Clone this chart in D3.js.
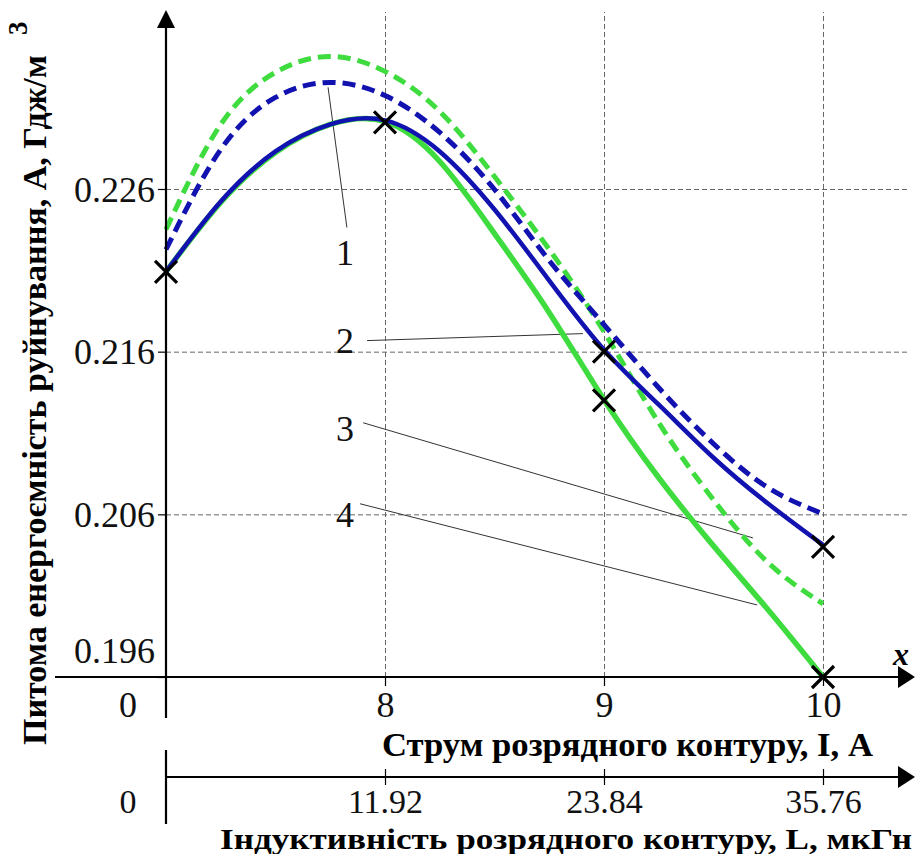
<!DOCTYPE html>
<html><head><meta charset="utf-8">
<script src="https://cdn.jsdelivr.net/npm/d3@7"></script>
<style>
html,body{margin:0;padding:0;background:#fff;}
svg{display:block;font-family:"Liberation Serif","Times New Roman",serif;}
svg text{font-family:"Liberation Serif","Times New Roman",serif;}
</style></head>
<body><svg id="chart" width="916" height="854"></svg>
<script>
// ---- data ----
const currentI = [7, 7.25, 7.5, 7.75, 8, 8.25, 8.5, 8.75, 9, 9.25, 9.5, 9.75, 10];
const blueSolid   = [0.22092,0.22523,0.22831,0.22997,0.23022,0.22831,0.22474,0.22037,0.21612,0.21274,0.20948,0.20665,0.20412];
const greenSolid  = [0.22092,0.22517,0.22825,0.22997,0.23015,0.22769,0.22326,0.21840,0.21305,0.20825,0.20406,0.20012,0.19600];
const blueDashed  = [0.22228,0.22843,0.23163,0.23255,0.23175,0.22948,0.22597,0.22160,0.21766,0.21378,0.21034,0.20763,0.20603];
const greenDashed = [0.22351,0.22997,0.23317,0.23415,0.23323,0.23077,0.22677,0.22228,0.21723,0.21163,0.20689,0.20302,0.20050];
const markerI = [7, 8, 9, 9, 10, 10];
const markerA = [0.2209, 0.2301, 0.2160, 0.2130, 0.2040, 0.1960];
const yTicks = [0.196, 0.206, 0.216, 0.226];
const xTicks = [8, 9, 10];
const lTicks = [11.92, 23.84, 35.76];
const curveLabels = ["1", "2", "3", "4"];
const labelI = [7.817, 7.817, 7.817, 7.817];
const labelA = [0.2221, 0.2167, 0.2113, 0.2060];
const leaderFromI = [7.826, 7.918, 7.900, 7.886];
const leaderFromA = [0.22363, 0.21668, 0.21163, 0.20665];
const leaderToI   = [7.740, 8.904, 9.680, 9.699];
const leaderToA   = [0.23225, 0.21711, 0.20455, 0.20043];
const yTitle = "Питома енергоємність руйнування, А, Гдж/м";
const xTitle1 = "Струм розрядного контуру, I, А";
const xTitle2 = "Індуктивність розрядного контуру, L, мкГн";

// ---- layout ----
const svg = d3.select("#chart");
const x = d3.scaleLinear().domain([7, 10]).range([166, 823]);
const y = d3.scaleLinear().domain([0.196, 0.226]).range([677, 189]);
const xL = d3.scaleLinear().domain([0, 35.76]).range([166, 823]);
const BLUE = "#1212b0", GREEN = "#3edc3e";
const FONT = "Liberation Serif";

// grid
const gy = svg.append("g").attr("transform", "translate(166,0)")
  .call(d3.axisLeft(y).tickValues(yTicks.filter(v => v > 0.196)).tickSize(-(908 - 166)).tickFormat(""));
gy.select(".domain").remove();
gy.selectAll("line").attr("stroke", "#666").attr("stroke-width", 1).attr("stroke-dasharray", "5,3");
const gx = svg.append("g").attr("transform", "translate(0,677)")
  .call(d3.axisBottom(x).tickValues(xTicks).tickSize(-(677 - 12)).tickFormat(""));
gx.select(".domain").remove();
gx.selectAll("line").attr("stroke", "#666").attr("stroke-width", 1).attr("stroke-dasharray", "5,3");

// leader lines and curve numbers
curveLabels.forEach((t, i) => {
  svg.append("line")
    .attr("x1", x(leaderFromI[i])).attr("y1", y(leaderFromA[i]))
    .attr("x2", x(leaderToI[i])).attr("y2", y(leaderToA[i]))
    .attr("stroke", "#333").attr("stroke-width", 1);
  svg.append("text").attr("x", x(labelI[i])).attr("y", y(labelA[i]) + 13)
    .attr("text-anchor", "middle").attr("font-family", FONT).attr("font-size", 36).attr("fill", "#111").text(t);
});

// curves
const line = d3.line().x((d, i) => x(currentI[i])).y(d => y(d)).curve(d3.curveNatural);
svg.append("path").attr("d", line(greenDashed)).attr("fill", "none").attr("stroke", GREEN)
  .attr("stroke-width", 5).attr("stroke-dasharray", "13,7");
svg.append("path").attr("d", line(blueDashed)).attr("fill", "none").attr("stroke", BLUE)
  .attr("stroke-width", 5).attr("stroke-dasharray", "13,7");
svg.append("path").attr("d", line(greenSolid)).attr("fill", "none").attr("stroke", GREEN)
  .attr("stroke-width", 5.5);
svg.append("path").attr("d", line(blueSolid)).attr("fill", "none").attr("stroke", BLUE)
  .attr("stroke-width", 4.5);

// axes lines
const ax = svg.append("g").attr("stroke", "#000").attr("stroke-width", 2.2);
ax.append("line").attr("x1", 166).attr("x2", 166).attr("y1", 718).attr("y2", 24);
ax.append("line").attr("x1", 55).attr("x2", 905).attr("y1", 677).attr("y2", 677);
ax.append("line").attr("x1", 166).attr("x2", 905).attr("y1", 777).attr("y2", 777);
ax.append("line").attr("x1", 166).attr("x2", 166).attr("y1", 750).attr("y2", 824);
svg.append("path").attr("d", "M166,10 L157,28 L175,28 Z").attr("fill", "#000");
svg.append("path").attr("d", "M915,677 L898,666 L898,688 Z").attr("fill", "#000");
svg.append("path").attr("d", "M915,777 L898,766 L898,788 Z").attr("fill", "#000");

// y ticks
const yAx = svg.append("g").attr("transform", "translate(166,0)")
  .call(d3.axisLeft(y).tickValues(yTicks).tickSize(8).tickPadding(3).tickFormat(d3.format(".3f")));
yAx.select(".domain").remove();
yAx.selectAll("line").attr("stroke", "#000").attr("stroke-width", 1.2);
yAx.selectAll("text").attr("font-size", 36).attr("font-family", FONT).attr("fill", "#111")
  .attr("dy", "0.34em").attr("y", d => d === 0.196 ? -27 : 0);

// x ticks (current)
const xAx = svg.append("g").attr("transform", "translate(0,677)")
  .call(d3.axisBottom(x).tickValues(xTicks).tickSize(9).tickFormat(d3.format("d")));
xAx.select(".domain").remove();
xAx.selectAll("line").attr("stroke", "#000").attr("stroke-width", 1.2);
xAx.selectAll("text").attr("font-size", 36).attr("font-family", FONT).attr("fill", "#111")
  .attr("y", 40).attr("dy", 0);
svg.append("text").attr("x", 128).attr("y", 717).attr("text-anchor", "middle").attr("font-family", FONT)
  .attr("font-size", 36).attr("fill", "#111").text("0");

// L ticks (inductance)
const lAx = svg.append("g").attr("transform", "translate(0,777)")
  .call(d3.axisBottom(xL).tickValues(lTicks).tickSize(8).tickFormat(d3.format(".2f")));
lAx.select(".domain").remove();
lAx.selectAll("line").attr("stroke", "#000").attr("stroke-width", 1.2).attr("y1", -8).attr("y2", 8);
lAx.selectAll("text").attr("font-size", 34).attr("font-family", FONT).attr("fill", "#111")
  .attr("y", 36).attr("dy", 0);
svg.append("text").attr("x", 128).attr("y", 813).attr("text-anchor", "middle").attr("font-family", FONT)
  .attr("font-size", 34).attr("fill", "#111").text("0");

// markers
const ms = 11;
const mk = svg.append("g").attr("stroke", "#000").attr("stroke-width", 3.2);
markerI.forEach((v, i) => {
  const cx = x(v), cy = y(markerA[i]);
  mk.append("path").attr("d", `M${cx - ms},${cy - ms}L${cx + ms},${cy + ms}M${cx - ms},${cy + ms}L${cx + ms},${cy - ms}`);
});

// x symbol
svg.append("text").attr("x", 901).attr("y", 665).attr("text-anchor", "middle").attr("font-family", FONT)
  .attr("font-size", 32).attr("font-style", "italic").attr("font-weight", "bold").text("x");

// titles
svg.append("text").attr("x", 382).attr("y", 756).attr("font-family", FONT).attr("font-size", 33).attr("font-weight", "bold")
  .attr("textLength", 491).attr("lengthAdjust", "spacingAndGlyphs").text(xTitle1);
svg.append("text").attr("x", 220).attr("y", 849).attr("font-family", FONT).attr("font-size", 30).attr("font-weight", "bold")
  .attr("textLength", 692).attr("lengthAdjust", "spacingAndGlyphs").text(xTitle2);
svg.append("text").attr("transform", "translate(46,745) rotate(-90)").attr("font-family", FONT).attr("font-size", 34).attr("font-weight", "bold")
  .attr("textLength", 690).attr("lengthAdjust", "spacingAndGlyphs").text(yTitle);
svg.append("text").attr("transform", "translate(27,35) rotate(-90)").attr("font-family", FONT).attr("font-size", 27).attr("font-weight", "bold").text("3");
</script></body></html>
